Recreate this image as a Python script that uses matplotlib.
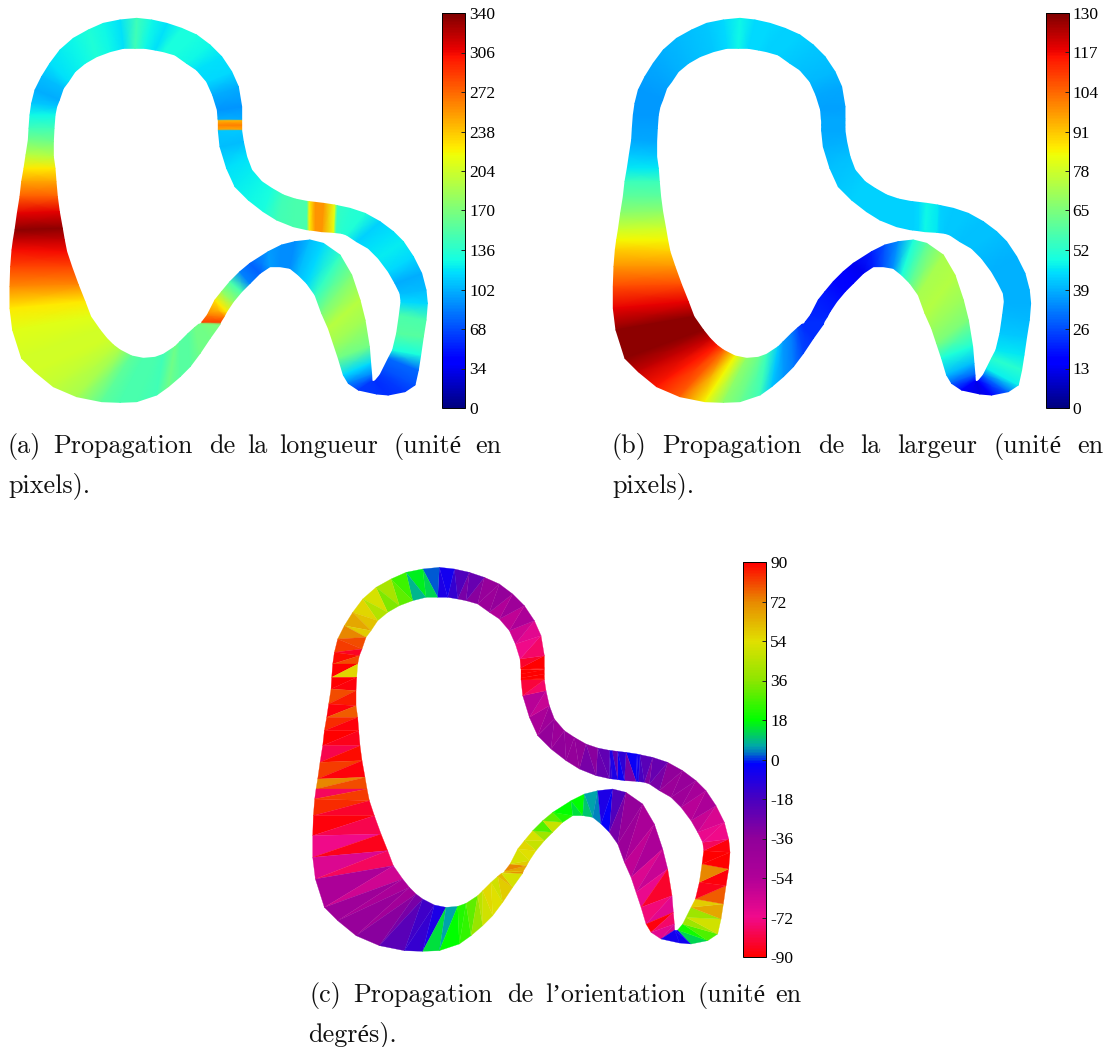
import numpy as np
from matplotlib import pyplot as plt
from matplotlib.colors import LinearSegmentedColormap

# band cross sections, in 3x pixel units of the first panel
outer_x=[1130,1165,1215,1245,1255,1262,1270,1278,1282,1278,
         1265,1240,1210,1180,1140,1095,1050,1012,1003,970,
         945,928,920,885,850,815,785,755,740,730,
         725,725,725,725,725,725,715,695,665,630,
         590,545,500,455,410,360,310,265,220,180,
         150,125,105,95,90,87,85,78,72,65,
         60,52,45,40,36,32,30,30,38,65,
         105,160,230,305,360,410,470,505,540,570,
         600,630,660,662,672,680,700,725,750,780,
         810,840,870,895,920,945,965,985,1000,1015,
         1030,1045,1075,1130]
outer_y=[1182,1185,1175,1155,1110,1065,1010,960,910,870,
         820,770,725,695,665,640,625,617,615,610,
         607,605,604,597,585,565,545,510,470,425,
         392,387,375,362,357,320,260,215,170,135,
         105,85,70,60,55,60,70,90,115,150,
         190,230,270,310,345,385,420,465,505,545,
         590,640,690,720,750,800,860,925,990,1075,
         1115,1160,1190,1205,1207,1205,1185,1160,1130,1100,
         1060,1015,973,966,950,935,905,875,850,820,
         800,800,805,825,850,885,940,985,1030,1075,
         1125,1150,1170,1182]
inner_x=[1118,1125,1140,1150,1165,1178,1190,1198,1203,1200,
         1185,1165,1135,1105,1070,1040,1025,1008,1000,965,
         945,928,920,880,830,790,745,705,680,660,
         655,655,655,655,654,652,638,620,590,560,
         525,490,465,435,405,370,330,290,255,225,
         205,190,178,170,165,162,160,160,165,168,
         172,178,187,193,200,215,235,255,272,300,
         320,340,360,395,430,465,490,525,540,565,
         585,596,603,606,622,645,665,690,720,750,
         805,845,885,930,970,1020,1055,1080,1095,1108,
         1112,1115,1116,1118]
inner_y=[1145,1143,1125,1105,1075,1050,1000,945,905,880,
         850,815,775,745,725,705,700,698,697,695,
         692,690,689,680,660,635,600,560,505,440,
         392,387,375,362,357,330,285,245,210,190,
         165,155,150,145,145,145,155,170,190,215,
         245,265,300,320,345,385,425,470,505,545,
         590,635,685,720,755,800,855,905,950,990,
         1015,1035,1050,1068,1075,1072,1063,1040,1025,1000,
         982,973,971,966,945,900,875,845,815,790,
         755,735,725,720,730,765,825,900,960,1040,
         1090,1125,1143,1145]

# length and width read at each cross section
length_vals=[60,58,62,70,78,130,155,150,115,105,
             100,115,122,118,112,132,135,140,215,255,
             255,222,150,150,145,130,125,122,118,105,
             110,250,262,245,100,92,100,115,118,125,
             130,130,118,125,145,118,125,132,125,122,
             118,105,100,110,125,145,165,195,225,250,
             275,310,335,320,305,285,260,225,212,205,
             205,198,188,158,150,150,145,165,155,155,
             165,165,170,285,265,225,180,150,85,75,
             95,90,90,105,115,140,170,195,185,165,
             115,85,62,60]
width_vals=[12,16,30,47,52,46,42,40,39,39,
            39,39,40,41,41,42,42,43,46,48,
            44,43,43,43,43,43,43,42,41,39,
            38,38,38,38,38,37,38,40,41,42,
            43,43,44,44,48,44,42,41,40,39,
            38,37,36,36,36,37,38,42,46,55,
            60,68,78,84,90,98,108,118,128,128,
            122,115,105,84,68,62,55,42,36,32,
            25,22,22,22,21,20,19,17,15,13,
            20,27,35,50,60,72,74,70,65,50,
            40,28,15,12]
# orientation read on the two triangles of each strip
angle_vals=[-5,-4,12,20,28,40,50,40,66,58,78,-86,-88,72,-90,-90,-88,-78,-72,-70,
            -65,-60,-52,-56,-48,-44,-40,-42,-36,-30,-26,-32,-22,-18,-6,-8,-4,-30,-12,-4,
            -24,-8,-8,-14,-24,-26,-34,-30,-36,-38,-38,-36,-42,-38,-44,-50,-60,-56,-76,-82,
            -90,-90,-90,-90,-90,-90,-90,-90,-90,-84,-76,-72,-68,-62,-52,-58,-44,-54,-38,-42,
            -40,-34,-26,-30,-20,-14,-6,-8,2,12,16,8,26,30,42,34,52,44,56,60,
            66,58,72,80,82,-85,88,80,-90,56,-90,-88,80,86,-88,78,84,-88,-90,-86,
            -80,88,82,-88,72,80,-78,82,84,-84,-88,-80,-72,-86,-66,-78,-52,-62,-44,-50,
            -40,-46,-34,-30,-22,-16,-14,-8,14,6,18,22,24,30,38,46,50,55,54,50,
            58,62,52,56,70,60,66,72,58,52,54,56,48,52,40,28,48,30,22,18,
            14,18,10,6,4,-8,-3,-20,-30,-38,-42,-50,-58,-52,-66,-60,-70,-84,-74,-68,
            -88,-76,-68,-64,-6,-3]

length_ticks=[0,34,68,102,136,170,204,238,272,306,340]
width_ticks=[0,13,26,39,52,65,78,91,104,117,130]
angle_ticks=[-90,-72,-54,-36,-18,0,18,36,54,72,90]

angle_stops=[0,0.1,0.2,0.3,0.4,0.49,0.515,0.535,0.6,0.7,0.8,0.9,1]
angle_cols=['#ff0000','#f00a8c','#b00098','#90009a','#4800c0','#0000ff','#0070c8','#00a8a8','#00ff00','#8ce600','#e0e000','#e88a00','#ff0000']
angle_cmap=LinearSegmentedColormap.from_list('angle',list(zip(angle_stops,angle_cols)))

W,H=1110,1047
fig=plt.figure(figsize=(W/100,H/100),dpi=100)

def px_axes(x0,y0,x1,y1):
    return fig.add_axes([x0/W,1-y1/H,(x1-x0)/W,(y1-y0)/H])

def band_axes(dx,dy):
    ax=px_axes(dx,dy,dx+440,dy+420)
    ax.set_xlim(0,1320)
    ax.set_ylim(1260,0)
    ax.axis('off')
    return ax

def add_bar(mesh,ticks,cbar_x,dy):
    cax=px_axes(cbar_x,dy+13,cbar_x+23,dy+408)
    cb=fig.colorbar(mesh,cax=cax,ticks=ticks)
    cb.ax.tick_params(direction='in',length=3,width=0.7,pad=3,labelsize=12.5,color='#222222')
    cb.ax.set_yticklabels([str(t) for t in ticks],family='Liberation Serif')
    cb.outline.set_linewidth(0.7)

def smooth_panel(vals,vmax,ticks,dx,dy,cbar_x):
    ax=band_axes(dx,dy)
    X=np.array([outer_x,inner_x])
    Y=np.array([outer_y,inner_y])
    C=np.array([vals,vals])
    mesh=ax.pcolormesh(X,Y,C,cmap='jet',vmin=0,vmax=vmax,shading='gouraud')
    add_bar(mesh,ticks,cbar_x,dy)

def facet_panel(vals,ticks,dx,dy,cbar_x):
    ax=band_axes(dx,dy)
    n=len(outer_x)
    xs=np.array(outer_x+inner_x)
    ys=np.array(outer_y+inner_y)
    tris=[]
    for i in range(n-1):
        tris.append([i,n+i,i+1])
        tris.append([n+i,n+i+1,i+1])
    mesh=ax.tripcolor(xs,ys,np.array(tris),facecolors=np.array(vals,dtype=float),
                      cmap=angle_cmap,vmin=-90,vmax=90,edgecolors='face',linewidth=0.2)
    add_bar(mesh,ticks,cbar_x,dy)

smooth_panel(length_vals,340,length_ticks,0,0,442)
smooth_panel(width_vals,130,width_ticks,603.3,0,1045.5)
facet_panel(angle_vals,angle_ticks,302.7,549,743)

cap_font=['cmr10','Liberation Serif']
def caption(words,y):
    for x,w in words:
        fig.text(x/W,1-y/H,w,family=cap_font,fontsize=18.8,va='baseline',ha='left',color='#111111')

caption([(8,'(a)'),(53,'Propagation'),(209,'de'),(247,'la'),(279,'longueur'),(393,'(unité'),(475,'en')],453)
caption([(8,'pixels).')],492)
caption([(612,'(b)'),(662,'Propagation'),(818,'de'),(860,'la'),(897,'largeur'),(993,'(unité'),(1077,'en')],453)
caption([(612,'pixels).')],492)
caption([(310,'(c)'),(353,'Propagation'),(507,'de'),(545,'l’orientation'),(697,'(unité'),(775,'en')],1002)
caption([(308,'degrés).')],1041)

plt.savefig('out.png',dpi=100)
